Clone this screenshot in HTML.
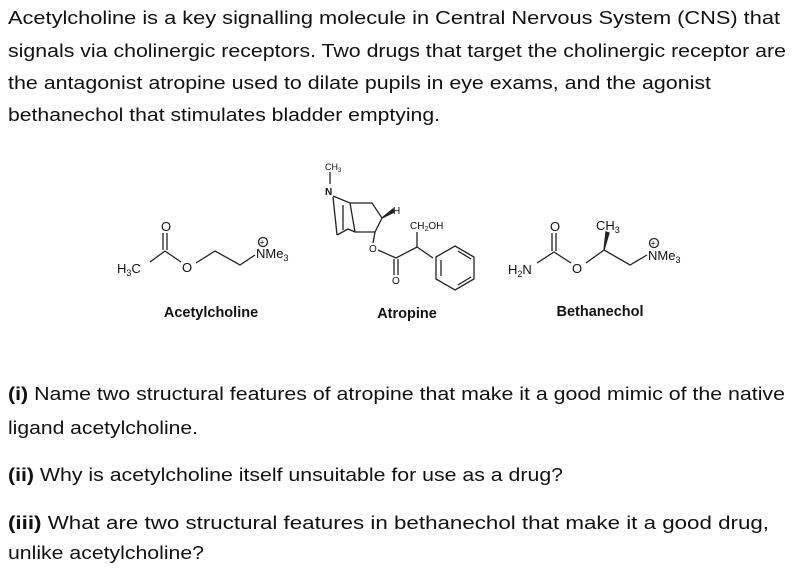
<!DOCTYPE html>
<html><head><style>
html,body{margin:0;padding:0;background:#fff;}
svg{display:block;}
text{font-family:"Liberation Sans",Arial,sans-serif;fill:#111;}
.t{font-size:18.5px;}
.c{font-size:13px;}
.l{font-size:14.5px;font-weight:bold;}
line,polyline,polygon,circle{stroke:#222;stroke-width:1.3;fill:none;}
</style></head><body>
<svg width="794" height="578" viewBox="0 0 794 578">
<text class="t" x="8" y="24" textLength="772" lengthAdjust="spacingAndGlyphs">Acetylcholine is a key signalling molecule in Central Nervous System (CNS) that</text>
<text class="t" x="8" y="57" textLength="778" lengthAdjust="spacingAndGlyphs">signals via cholinergic receptors. Two drugs that target the cholinergic receptor are</text>
<text class="t" x="8" y="89" textLength="703" lengthAdjust="spacingAndGlyphs">the antagonist atropine used to dilate pupils in eye exams, and the agonist</text>
<text class="t" x="8" y="121" textLength="432" lengthAdjust="spacingAndGlyphs">bethanechol that stimulates bladder emptying.</text>

<!-- Acetylcholine -->
<text class="c" x="117" y="273">H<tspan font-size="9" dy="3">3</tspan><tspan dy="-3">C</tspan></text>
<polyline points="150,262 165,251 181,262"/>
<line x1="163" y1="250" x2="163" y2="233"/><line x1="167" y1="250" x2="167" y2="233"/>
<text class="c" x="161" y="231">O</text>
<text class="c" x="182" y="272">O</text>
<polyline points="196,263 215,251 240,265 255,255"/>
<text class="c" x="256" y="258">NMe<tspan font-size="9" dy="3">3</tspan></text>
<circle cx="263" cy="242" r="4.5"/><text x="259.5" y="245.5" style="font-size:9px">+</text>

<!-- Atropine -->
<text x="325" y="170" style="font-size:9px">CH<tspan font-size="6" dy="2">3</tspan></text>
<line x1="330" y1="172" x2="330" y2="184"/>
<text x="325" y="195" style="font-size:10px;font-weight:bold">N</text>
<polyline points="333,196 350,203 372,203 382,218 375,232 355,232 350,203"/>
<line x1="333" y1="197" x2="337" y2="235"/>
<polyline points="337,235 348,229 355,232"/>
<line x1="343" y1="205" x2="343" y2="230"/>
<polygon points="382,218 393,209 394,212" style="fill:#222"/>
<text x="393" y="214" style="font-size:10px">H</text>
<line x1="375" y1="232" x2="373" y2="243"/>
<text x="369" y="252" style="font-size:10px">O</text>
<polyline points="378,250 396,258 417,247 433,258"/>
<line x1="394" y1="259" x2="394" y2="275"/><line x1="398" y1="259" x2="398" y2="275"/>
<text x="392" y="284" style="font-size:10px">O</text>
<line x1="417" y1="247" x2="417" y2="232"/>
<text x="410" y="229" style="font-size:10px">CH<tspan font-size="7" dy="2">2</tspan><tspan dy="-2">OH</tspan></text>
<polygon points="436,257 455,246 474,257 474,279 455,290 436,279"/>
<line x1="441" y1="260" x2="441" y2="276"/><line x1="458" y1="251" x2="471" y2="259"/><line x1="458" y1="285" x2="471" y2="277"/>

<!-- Bethanechol -->
<text class="c" x="508" y="274">H<tspan font-size="9" dy="3">2</tspan><tspan dy="-3">N</tspan></text>
<polyline points="537,263 554,252 571,263"/>
<line x1="552" y1="251" x2="552" y2="233"/><line x1="556" y1="251" x2="556" y2="233"/>
<text class="c" x="550" y="231">O</text>
<text class="c" x="572" y="273">O</text>
<polyline points="586,263 604,250 630,265 647,255"/>
<polygon points="604,250 606,232 609,233" style="fill:#222"/>
<text class="c" x="596" y="230">CH<tspan font-size="9" dy="3">3</tspan></text>
<text class="c" x="648" y="260">NMe<tspan font-size="9" dy="3">3</tspan></text>
<circle cx="654" cy="243" r="4.5"/><text x="650.5" y="246.5" style="font-size:9px">+</text>

<text class="l" x="211" y="317" text-anchor="middle">Acetylcholine</text>
<text class="l" x="407" y="318" text-anchor="middle">Atropine</text>
<text class="l" x="600" y="316" text-anchor="middle">Bethanechol</text>

<text class="t" x="8" y="400" textLength="777" lengthAdjust="spacingAndGlyphs"><tspan font-weight="bold">(i)</tspan> Name two structural features of atropine that make it a good mimic of the native</text>
<text class="t" x="8" y="434" textLength="190" lengthAdjust="spacingAndGlyphs">ligand acetylcholine.</text>
<text class="t" x="8" y="481" textLength="555" lengthAdjust="spacingAndGlyphs"><tspan font-weight="bold">(ii)</tspan> Why is acetylcholine itself unsuitable for use as a drug?</text>
<text class="t" x="8" y="529" textLength="761" lengthAdjust="spacingAndGlyphs"><tspan font-weight="bold">(iii)</tspan> What are two structural features in bethanechol that make it a good drug,</text>
<text class="t" x="8" y="559" textLength="196" lengthAdjust="spacingAndGlyphs">unlike acetylcholine?</text>
</svg>
</body></html>
